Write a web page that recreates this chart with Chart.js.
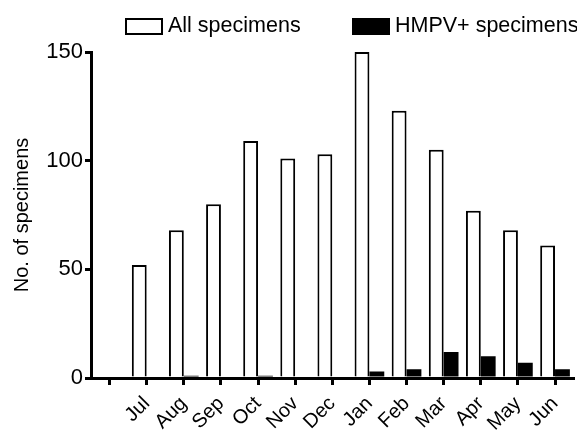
<!DOCTYPE html>
<html>
<head>
<meta charset="utf-8">
<script src="https://cdn.jsdelivr.net/npm/chart.js@4"></script>
<style>
  html, body { margin: 0; padding: 0; background: #fff; overflow: hidden; }
  #wrap { position: relative; width: 579px; height: 433px; overflow: hidden; }
  #legend { position: absolute; top: 17px; left: 0; width: 579px; height: 18px;
            font-family: 'Liberation Sans', Arial, sans-serif; font-size: 21.5px; color: #000; }
  .item { position: absolute; top: 0; height: 18px; display: flex; align-items: center; white-space: nowrap; }
  .box { width: 38px; height: 17px; box-sizing: border-box; border: 2px solid #000; margin-right: 5px; flex: none; }
  .item span { line-height: 1; }
</style>
</head>
<body>
<div id="wrap">
  <canvas id="chart" width="579" height="433"></canvas>
  <div id="legend"></div>
</div>
<script>
const categories = ['', 'Jul', 'Aug', 'Sep', 'Oct', 'Nov', 'Dec', 'Jan', 'Feb', 'Mar', 'Apr', 'May', 'Jun'];
const allSpecimens = [null, 52, 68, 80, 109, 101, 103, 150, 123, 105, 77, 68, 61];
const hmpvSpecimens = [null, 0, 1, 0, 1, 0, 0, 3, 4, 12, 10, 7, 4];
const yTicks = [0, 50, 100, 150];

const font = "'Liberation Sans', Arial, sans-serif";

const datasets = [
  {
    label: 'All specimens',
    data: allSpecimens,
    backgroundColor: '#ffffff',
    borderColor: '#000000',
    borderWidth: 2,
    barPercentage: 1,
    categoryPercentage: 0.8
  },
  {
    label: 'HMPV+ specimens',
    data: hmpvSpecimens,
    backgroundColor: '#000000',
    borderColor: '#000000',
    borderWidth: 0,
    barPercentage: 1,
    categoryPercentage: 0.8
  }
];

// legend drawn as html, positions taken from the figure
const legendLeft = [125, 352];
const legend = document.getElementById('legend');
datasets.forEach((ds, i) => {
  const item = document.createElement('div');
  item.className = 'item';
  item.style.left = legendLeft[i] + 'px';
  const box = document.createElement('div');
  box.className = 'box';
  box.style.background = ds.backgroundColor;
  const txt = document.createElement('span');
  txt.textContent = ds.label;
  item.appendChild(box);
  item.appendChild(txt);
  legend.appendChild(item);
});

const ctx = document.getElementById('chart').getContext('2d');
new Chart(ctx, {
  type: 'bar',
  data: { labels: categories, datasets: datasets },
  options: {
    responsive: false,
    animation: false,
    layout: { padding: { top: 52, left: 0, right: 0, bottom: 0 } },
    plugins: {
      legend: { display: false },
      tooltip: { enabled: false }
    },
    scales: {
      x: {
        offset: true,
        afterFit: s => { s.height = 55; },
        grid: { offset: false, drawOnChartArea: false, drawTicks: true, tickLength: 7, lineWidth: 3, color: '#000' },
        border: { display: true, width: 3, color: '#000' },
        ticks: {
          color: '#000',
          font: { family: font, size: 20 },
          minRotation: 45,
          maxRotation: 45,
          padding: 7,
          autoSkip: false
        }
      },
      y: {
        min: 0,
        max: 150,
        afterFit: s => { s.width = 91; },
        afterBuildTicks: axis => { axis.ticks = yTicks.map(v => ({ value: v })); },
        grid: { drawOnChartArea: false, drawTicks: true, tickLength: 6, lineWidth: 3, color: '#000' },
        border: { display: true, width: 3, color: '#000' },
        ticks: { color: '#000', font: { family: font, size: 22 }, padding: 2 },
        title: {
          display: true,
          text: 'No. of specimens',
          color: '#000',
          font: { family: font, size: 20 },
          padding: { top: 10, bottom: 12 }
        }
      }
    }
  }
});
</script>
</body>
</html>
